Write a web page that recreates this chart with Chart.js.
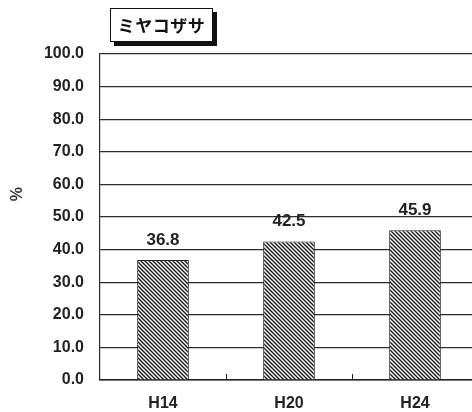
<!DOCTYPE html>
<html>
<head>
<meta charset="utf-8">
<script src="https://cdn.jsdelivr.net/npm/chart.js@4"></script>
<style>
  html, body { margin: 0; padding: 0; background: #fff; overflow: hidden; }
  #wrap { position: relative; width: 480px; height: 412px; }
  #title {
    position: absolute; left: 110px; top: 8px; width: 101px; height: 32px;
    border: 1px solid #111; background: #fff; box-shadow: 4px 4px 0 #111;
    font: bold 17px "Noto Sans CJK JP", sans-serif; color: #111;
    text-align: center; line-height: 32px; letter-spacing: 0.5px;
  }
</style>
</head>
<body>
<div id="wrap">
  <canvas id="chart" width="480" height="412"></canvas>
  <div id="title">ミヤコザサ</div>
</div>
<script>
const years = ['H14', 'H20', 'H24'];
const cover = [36.8, 42.5, 45.9];
const yTicks = [0, 10, 20, 30, 40, 50, 60, 70, 80, 90, 100];

const numFont = '"Liberation Sans", Arial, sans-serif';

// diagonal hatch fill for the bars
function hatch() {
    const c = document.createElement('canvas');
    c.width = 4; c.height = 4;
    const g = c.getContext('2d');
    g.fillStyle = '#fff';
    g.fillRect(0, 0, 4, 4);
    g.strokeStyle = '#1a1a1a';
    g.lineWidth = 1.4;
    g.beginPath();
    g.moveTo(-1, -1); g.lineTo(5, 5);
    g.moveTo(-1, 3); g.lineTo(1, 5);
    g.moveTo(3, -1); g.lineTo(5, 1);
    g.stroke();
    return g.createPattern(c, 'repeat');
}

// value above each bar
const valueLabels = {
    id: 'valueLabels',
    afterDatasetsDraw(chart) {
        const ctx = chart.ctx;
        const meta = chart.getDatasetMeta(0);
        ctx.save();
        ctx.font = 'bold 17px ' + numFont;
        ctx.fillStyle = '#222';
        ctx.textAlign = 'center';
        ctx.textBaseline = 'middle';
        meta.data.forEach((bar, i) => {
            ctx.fillText(cover[i].toFixed(1), bar.x, bar.y - 20);
        });
        ctx.restore();
    }
};

// sideways "%" unit to the left of the value axis
const unitLabel = {
    id: 'unitLabel',
    afterDraw(chart) {
        const ctx = chart.ctx;
        const y = chart.scales.y.getPixelForValue(57);
        ctx.save();
        ctx.translate(18, y);
        ctx.rotate(-Math.PI / 2);
        ctx.font = 'bold 16px ' + numFont;
        ctx.fillStyle = '#333';
        ctx.textAlign = 'center';
        ctx.textBaseline = 'middle';
        ctx.fillText('%', 0, 0);
        ctx.restore();
    }
};

// short upward tick marks between categories on the x axis
const innerTicks = {
    id: 'innerTicks',
    afterDraw(chart) {
        const x = chart.scales.x;
        const ctx = chart.ctx;
        const bottom = chart.chartArea.bottom;
        ctx.save();
        ctx.strokeStyle = '#222';
        ctx.lineWidth = 1;
        for (let i = 0; i < years.length - 1; i++) {
            const px = Math.round((x.getPixelForValue(i) + x.getPixelForValue(i + 1)) / 2) + 0.5;
            ctx.beginPath();
            ctx.moveTo(px, bottom);
            ctx.lineTo(px, bottom - 6);
            ctx.stroke();
        }
        ctx.restore();
    }
};

new Chart(document.getElementById('chart'), {
    type: 'bar',
    data: {
        labels: years,
        datasets: [{
            data: cover,
            backgroundColor: hatch(),
            borderColor: '#222',
            borderWidth: 1,
            barPercentage: 0.41,
            categoryPercentage: 1
        }]
    },
    options: {
        responsive: false,
        animation: false,
        layout: { padding: { top: 54, right: 2, left: 0, bottom: 0 } },
        scales: {
            y: {
                min: 0,
                max: 100,
                afterBuildTicks(scale) {
                    scale.ticks = yTicks.map(v => ({ value: v }));
                },
                afterFit(scale) { scale.width = 100; },
                ticks: {
                    padding: 16,
                    color: '#222',
                    font: { family: numFont, size: 16, weight: 'bold' },
                    callback: v => v.toFixed(1)
                },
                grid: { color: '#2a2a2a', lineWidth: 1.2, drawTicks: false },
                border: { color: '#2a2a2a', width: 1.2 }
            },
            x: {
                afterFit(scale) { scale.height = 32; },
                grid: { display: false },
                border: { color: '#222', width: 1.5 },
                ticks: {
                    padding: 6,
                    color: '#222',
                    font: { family: numFont, size: 16, weight: 'bold' }
                }
            }
        },
        plugins: {
            legend: { display: false },
            tooltip: { enabled: false }
        }
    },
    plugins: [valueLabels, unitLabel, innerTicks]
});
</script>
</body>
</html>
